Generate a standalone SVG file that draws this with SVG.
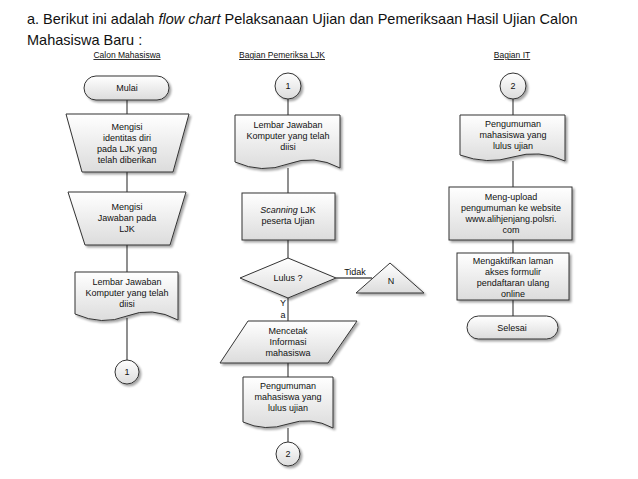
<svg xmlns="http://www.w3.org/2000/svg" width="638" height="479" viewBox="0 0 638 479">
<defs>
<linearGradient id="g" x1="0" y1="0" x2="0" y2="1"><stop offset="0" stop-color="#ffffff"/><stop offset="1" stop-color="#dcdcdc"/></linearGradient>
<filter id="sh" x="-10%" y="-10%" width="130%" height="140%"><feDropShadow dx="2" dy="2" stdDeviation="1.2" flood-color="#000" flood-opacity="0.35"/></filter>
</defs>
<style>
.s{fill:url(#g);stroke:#333;stroke-width:1;filter:url(#sh)}
.c{stroke:#555;stroke-width:1.3;fill:none}
text{font-family:"Liberation Sans",Arial,sans-serif;font-size:9px;fill:#111;text-anchor:middle}
.h{text-decoration:underline;font-size:8.5px}
.t{font-size:14.5px;text-anchor:start}
</style>
<rect width="638" height="479" fill="#fff"/>
<text class="t" x="27" y="24">a. Berikut ini adalah <tspan font-style="italic">flow chart</tspan> Pelaksanaan Ujian dan Pemeriksaan Hasil Ujian Calon</text>
<text class="t" x="27" y="45">Mahasiswa Baru :</text>
<text class="h" x="127" y="58">Calon Mahasiswa</text>
<text class="h" x="282" y="58">Bagian Pemeriksa LJK</text>
<text class="h" x="512" y="58">Bagian IT</text>
<g id="connectors" class="c">
<path d="M127 100V114M127 172V192M127 245V272M127 318V360"/>
<path d="M288 99V115M288 168V193M288 240V258M288 298V321M288 363V377M288 428V442"/>
<path d="M336 278H372"/>
<path d="M513 99V115M513 161V187M513 240V253M513 300V316"/>
</g>
<g id="mulai"><rect class="s" x="84" y="76" width="85" height="24" rx="12"/><text x="127" y="91">Mulai</text></g>
<g id="identitas"><path class="s" d="M66 114H189L173 172H82Z"/><text x="127" y="130">Mengisi</text><text x="127" y="141">identitas diri</text><text x="127" y="152">pada LJK yang</text><text x="127" y="163">telah diberikan</text></g>
<g id="jawaban"><path class="s" d="M68 192H186L170 245H85Z"/><text x="127" y="210">Mengisi</text><text x="127" y="221">Jawaban pada</text><text x="127" y="232">LJK</text></g>
<g id="lembar1"><path class="s" d="M75 272H178V320Q152 306 127 316T75 314Z"/><text x="127" y="285">Lembar Jawaban</text><text x="127" y="296">Komputer yang telah</text><text x="127" y="307">diisi</text></g>
<g id="c1a"><circle class="s" cx="127" cy="372" r="12"/><text x="127" y="375">1</text></g>
<g id="c1b"><circle class="s" cx="288" cy="86" r="13"/><text x="288" y="89">1</text></g>
<g id="lembar2"><path class="s" d="M235 115H340V168Q314 154 288 164T235 162Z"/><text x="288" y="128">Lembar Jawaban</text><text x="288" y="139">Komputer yang telah</text><text x="288" y="150">diisi</text></g>
<g id="scanning"><rect class="s" x="242" y="193" width="93" height="47"/><text x="288" y="213"><tspan font-style="italic">Scanning</tspan> LJK</text><text x="288" y="224">peserta Ujian</text></g>
<g id="lulus"><path class="s" d="M240 278L288 258L336 278L288 298Z"/><text x="288" y="281">Lulus ?</text></g>
<text x="355" y="275">Tidak</text>
<g id="n"><path class="s" d="M390 263L424 293H356Z"/><text x="391" y="284">N</text></g>
<text x="283" y="306">Y</text><text x="283" y="318">a</text>
<g id="cetak"><path class="s" d="M248 321H357L328 363H220Z"/><text x="288" y="334">Mencetak</text><text x="288" y="345">Informasi</text><text x="288" y="356">mahasiswa</text></g>
<g id="peng1"><path class="s" d="M243 377H333V428Q311 416 288 424T243 422Z"/><text x="288" y="389">Pengumuman</text><text x="288" y="400">mahasiswa yang</text><text x="288" y="411">lulus ujian</text></g>
<g id="c2a"><circle class="s" cx="288" cy="454" r="12"/><text x="288" y="457">2</text></g>
<g id="c2b"><circle class="s" cx="513" cy="86" r="13"/><text x="513" y="89">2</text></g>
<g id="peng2"><path class="s" d="M460 115H565V161Q539 149 513 157T460 155Z"/><text x="513" y="127">Pengumuman</text><text x="513" y="138">mahasiswa yang</text><text x="513" y="149">lulus ujian</text></g>
<g id="upload"><rect class="s" x="449" y="187" width="123" height="53"/><text x="511" y="200">Meng-upload</text><text x="511" y="211">pengumuman ke website</text><text x="511" y="222">www.alihjenjang.polsri.</text><text x="511" y="233">com</text></g>
<g id="aktif"><rect class="s" x="457" y="253" width="112" height="47"/><text x="513" y="264">Mengaktifkan laman</text><text x="513" y="275">akses formulir</text><text x="513" y="286">pendaftaran ulang</text><text x="513" y="297">online</text></g>
<g id="selesai"><rect class="s" x="467" y="316" width="91" height="23" rx="11.5"/><text x="512" y="331">Selesai</text></g>
</svg>
